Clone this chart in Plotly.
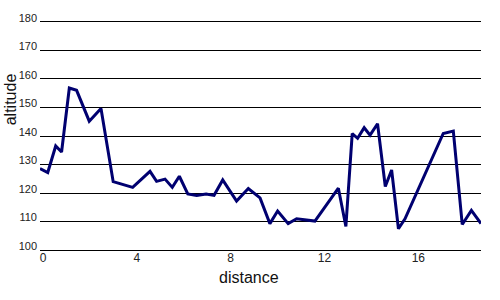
import plotly.graph_objects as go

distance = [0.00, 0.33, 0.67, 0.92, 1.25, 1.56, 2.10, 2.60, 3.12, 3.95,
            4.69, 4.97, 5.33, 5.64, 5.94, 6.30, 6.68, 7.08, 7.42, 7.79,
            8.38, 8.88, 9.38, 9.80, 10.13, 10.58, 10.94, 11.72, 12.72, 13.04,
            13.31, 13.54, 13.82, 14.07, 14.39, 14.72, 14.99, 15.28, 15.56, 17.19,
            17.62, 18.00, 18.39, 18.80]
altitude = [128.6, 127.2, 136.5, 134.4, 156.8, 156.0, 145.2, 149.6, 124.0, 122.0,
            127.6, 124.1, 124.9, 122.0, 125.9, 119.7, 119.2, 119.7, 119.2, 124.6,
            117.2, 121.6, 118.3, 109.3, 113.7, 109.3, 111.0, 110.2, 121.7, 108.3,
            140.8, 139.2, 142.9, 140.3, 144.3, 122.3, 128.1, 107.5, 111.0, 140.9,
            141.7, 109.0, 113.9, 109.3]
x_ticks = [0, 4, 8, 12, 16]
y_ticks = [100, 110, 120, 130, 140, 150, 160, 170, 180]

W, H = 500, 300
ML, MR, MT, MB = 40, 19, 17, 47

fig = go.Figure()
fig.add_trace(go.Scatter(x=distance, y=altitude, mode="lines",
                         line=dict(color="#000070", width=3), showlegend=False,
                         hoverinfo="skip"))

font_family = "Liberation Sans, Arial, sans-serif"
fig.update_layout(
    width=W, height=H,
    margin=dict(l=ML, r=MR, t=MT, b=MB),
    paper_bgcolor="white", plot_bgcolor="white",
    font=dict(family=font_family, color="#222222", size=11),
    xaxis=dict(range=[0, 18.8], tickvals=x_ticks, showgrid=False, zeroline=False,
               showline=False, ticks="", ticklabelshift=3, ticklabelstandoff=-4,
               tickfont=dict(size=12)),
    yaxis=dict(range=[99, 181], tickvals=y_ticks, showgrid=True, gridcolor="black",
               gridwidth=1, zeroline=False, showline=False, ticks="",
               ticklabelshift=-4, ticklabelstandoff=2, tickfont=dict(size=11)),
)
fig.add_annotation(text="distance", xref="paper", yref="paper",
                   x=(249 - ML) / (W - ML - MR), y=-(278 - (H - MB)) / (H - MT - MB),
                   showarrow=False, font=dict(size=16, color="#111111"),
                   xanchor="center", yanchor="middle")
fig.add_annotation(text="altitude", xref="paper", yref="paper",
                   x=-(ML - 10) / (W - ML - MR), y=1 - (98 - MT) / (H - MT - MB),
                   showarrow=False, textangle=-90, font=dict(size=16, color="#111111"),
                   xanchor="center", yanchor="middle")

fig.write_html("out.html")
